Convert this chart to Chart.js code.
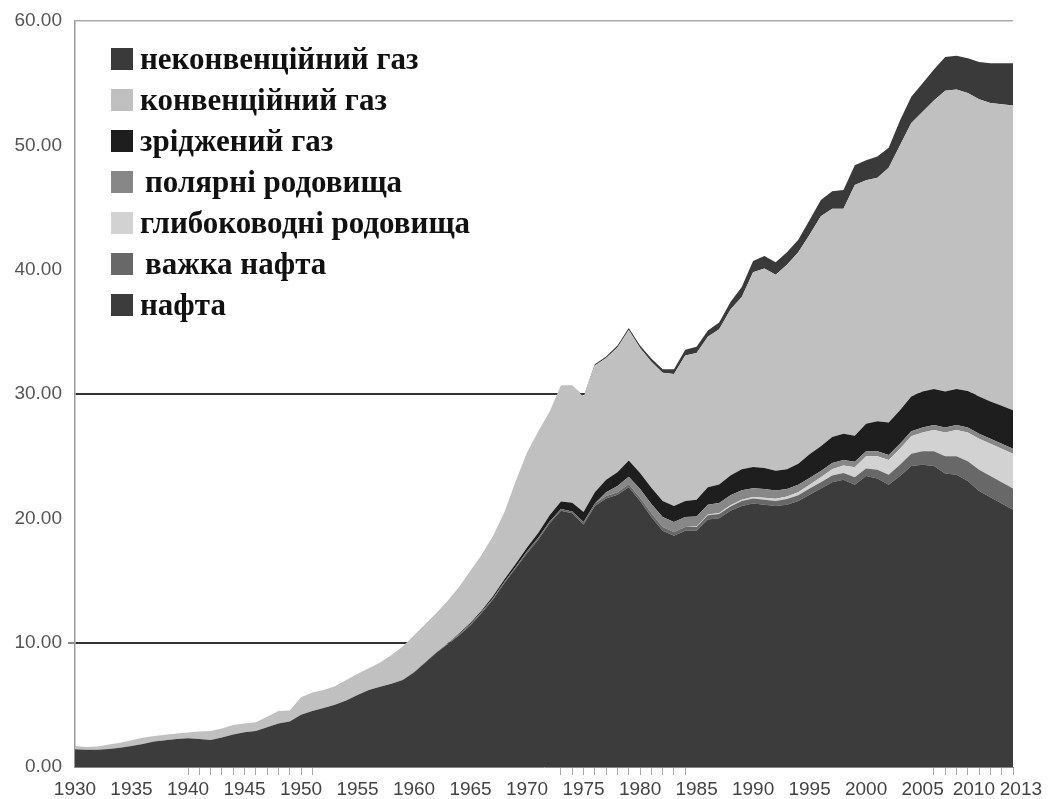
<!DOCTYPE html>
<html>
<head>
<meta charset="utf-8">
<script src="https://cdn.jsdelivr.net/npm/chart.js@4.4.0/dist/chart.umd.min.js"></script>
<style>
  body { margin: 0; background: #fff; }
  #wrap { position: relative; width: 1048px; height: 799px; }
  #legend { position: absolute; left: 111px; top: 48px; font: bold 31px 'Liberation Serif', 'Times New Roman', serif; color: #111; }
  .row { display: flex; align-items: center; height: 22px; margin-bottom: 19px; white-space: nowrap; }
  .sw { width: 22px; height: 22px; margin-right: 7px; flex: none; }
  .indent { padding-left: 5px; }
</style>
</head>
<body>
<div id="wrap">
  <canvas id="energyChart"></canvas>
  <div id="legend"></div>
</div>
<script>
const years = [];
for (let y = 1930; y <= 2013; y++) years.push(y);

// ticked years on the x axis (only these show small tick marks)
const tickedYears = [1940, 1941, 1942, 1943, 1944, 1945, 1946, 1947, 1948, 1949, 1950, 1951,
  1973, 1974, 1975, 1976, 1977, 1978, 1979, 1980, 1981, 1982, 1983, 1984,
  2006, 2007, 2008, 2009, 2010, 2011, 2012, 2013];
const yTickLabels = [0, 10, 20, 30, 40, 50, 60];

// series, bottom to top
const oil = [
  1.42, 1.38, 1.38, 1.45, 1.55, 1.69, 1.85, 2.05, 2.15, 2.25,
  2.31, 2.25, 2.18, 2.38, 2.62, 2.80, 2.90, 3.20, 3.50, 3.65,
  4.20, 4.50, 4.75, 5.00, 5.35, 5.80, 6.20, 6.45, 6.70, 7.00,
  7.60, 8.40, 9.20, 9.90, 10.6, 11.4, 12.4, 13.5, 14.8, 16.0,
  17.2, 18.3, 19.6, 20.6, 20.4, 19.5, 21.0, 21.6, 21.9, 22.5,
  21.4, 20.1, 19.0, 18.6, 19.0, 19.0, 19.9, 20.0, 20.6, 21.0,
  21.2, 21.1, 21.0, 21.1, 21.4, 21.9, 22.4, 22.9, 23.1, 22.7,
  23.4, 23.2, 22.7, 23.4, 24.2, 24.3, 24.2, 23.6, 23.5, 23.0,
  22.2, 21.7, 21.2, 20.7
];
const heavyOil = [
  0, 0, 0, 0, 0, 0, 0, 0, 0, 0,
  0, 0, 0, 0, 0, 0, 0, 0, 0, 0,
  0, 0, 0, 0, 0, 0, 0, 0, 0, 0,
  0.05, 0.05, 0.05, 0.05, 0.1, 0.1, 0.1, 0.1, 0.1, 0.1,
  0.15, 0.15, 0.15, 0.15, 0.15, 0.2, 0.2, 0.2, 0.2, 0.25,
  0.25, 0.3, 0.3, 0.3, 0.3, 0.3, 0.35, 0.35, 0.35, 0.4,
  0.4, 0.4, 0.4, 0.45, 0.45, 0.5, 0.5, 0.55, 0.55, 0.6,
  0.6, 0.7, 0.8, 0.9, 1.0, 1.1, 1.2, 1.4, 1.5, 1.6,
  1.7, 1.7, 1.7, 1.7
];
const deepWater = [
  0, 0, 0, 0, 0, 0, 0, 0, 0, 0,
  0, 0, 0, 0, 0, 0, 0, 0, 0, 0,
  0, 0, 0, 0, 0, 0, 0, 0, 0, 0,
  0, 0, 0, 0, 0, 0, 0, 0, 0, 0,
  0, 0, 0, 0, 0, 0, 0, 0, 0, 0,
  0, 0, 0, 0, 0, 0.05, 0.05, 0.08, 0.1, 0.1,
  0.12, 0.15, 0.18, 0.2, 0.25, 0.3, 0.4, 0.5, 0.6, 0.8,
  1.0, 1.1, 1.2, 1.3, 1.4, 1.5, 1.7, 1.9, 2.1, 2.3,
  2.5, 2.6, 2.7, 2.8
];
const polar = [
  0, 0, 0, 0, 0, 0, 0, 0, 0, 0,
  0, 0, 0, 0, 0, 0, 0, 0, 0, 0,
  0, 0, 0, 0, 0, 0, 0, 0, 0, 0,
  0, 0, 0, 0, 0, 0, 0, 0, 0, 0,
  0, 0, 0, 0, 0, 0, 0, 0.3, 0.5, 0.6,
  0.7, 0.75, 0.8, 0.8, 0.8, 0.8, 0.8, 0.8, 0.8, 0.75,
  0.7, 0.7, 0.65, 0.6, 0.6, 0.55, 0.5, 0.5, 0.45, 0.45,
  0.4, 0.4, 0.4, 0.4, 0.4, 0.4, 0.4, 0.4, 0.4, 0.4,
  0.4, 0.4, 0.4, 0.4
];
const lng = [
  0, 0, 0, 0, 0, 0, 0, 0, 0, 0,
  0, 0, 0, 0, 0, 0, 0, 0, 0, 0,
  0, 0, 0, 0, 0, 0, 0, 0, 0, 0,
  0, 0, 0, 0, 0.05, 0.1, 0.1, 0.15, 0.2, 0.25,
  0.3, 0.4, 0.5, 0.6, 0.7, 0.8, 0.9, 1.0, 1.1, 1.3,
  1.3, 1.3, 1.3, 1.3, 1.3, 1.35, 1.4, 1.5, 1.6, 1.7,
  1.7, 1.7, 1.6, 1.6, 1.7, 1.9, 2.0, 2.1, 2.1, 2.1,
  2.2, 2.4, 2.6, 2.7, 2.8, 2.9, 2.9, 2.9, 2.9, 2.95,
  3.0, 3.0, 3.05, 3.1
];
const convGas = [
  0.27, 0.22, 0.27, 0.35, 0.40, 0.46, 0.50, 0.45, 0.45, 0.45,
  0.47, 0.60, 0.72, 0.72, 0.76, 0.70, 0.70, 0.85, 1.00, 0.90,
  1.40, 1.50, 1.45, 1.50, 1.65, 1.70, 1.75, 1.95, 2.30, 2.70,
  2.95, 3.05, 3.15, 3.45, 3.75, 4.20, 4.50, 4.85, 5.40, 6.65,
  7.65, 8.15, 8.35, 9.35, 9.45, 9.25, 10.2, 9.80, 10.05, 10.5,
  10.05, 10.15, 10.3, 10.6, 11.7, 11.8, 12.1, 12.47, 13.35, 13.85,
  15.68, 16.05, 15.77, 16.45, 17.0, 17.65, 18.5, 18.35, 18.1, 20.15,
  19.6, 19.6, 20.5, 21.3, 22.0, 22.5, 23.2, 24.2, 24.1, 23.95,
  23.9, 24.0, 24.25, 24.5
];
const unconvGas = [
  0, 0, 0, 0, 0, 0, 0, 0, 0, 0,
  0, 0, 0, 0, 0, 0, 0, 0, 0, 0,
  0, 0, 0, 0, 0, 0, 0, 0, 0, 0,
  0, 0, 0, 0, 0, 0, 0, 0, 0, 0,
  0, 0, 0, 0, 0, 0.05, 0.1, 0.12, 0.15, 0.15,
  0.2, 0.25, 0.3, 0.4, 0.45, 0.5, 0.5, 0.55, 0.6, 0.8,
  0.9, 1.0, 1.0, 1.0, 1.0, 1.2, 1.3, 1.4, 1.5, 1.6,
  1.6, 1.7, 1.6, 2.0, 2.1, 2.3, 2.5, 2.7, 2.7, 2.8,
  3.0, 3.2, 3.3, 3.4
];

const seriesNames = ['нафта', 'важка нафта', 'глибоководні родовища', 'полярні родовища',
  'зріджений газ', 'конвенційний газ', 'неконвенційний газ'];
const seriesData = [oil, heavyOil, deepWater, polar, lng, convGas, unconvGas];
const seriesColors = ['#3c3c3c', '#686868', '#d2d2d2', '#878787', '#1e1e1e', '#c0c0c0', '#3a3a3a'];

// html legend, top of stack first
const legendEl = document.getElementById('legend');
for (let i = seriesNames.length - 1; i >= 0; i--) {
  const row = document.createElement('div');
  row.className = 'row';
  const indent = (i === 1 || i === 3) ? ' class="indent"' : '';
  row.innerHTML = '<span class="sw" style="background:' + seriesColors[i] + '"></span><span' + indent + '>' + seriesNames[i] + '</span>';
  legendEl.appendChild(row);
}

const axisFont = { family: "'Liberation Sans', Arial, sans-serif", size: 19 };

const ctx = document.getElementById('energyChart').getContext('2d');
new Chart(ctx, {
  type: 'line',
  data: {
    labels: years,
    datasets: seriesData.map((d, i) => ({
      label: seriesNames[i],
      data: d,
      backgroundColor: seriesColors[i],
      borderWidth: 0,
      pointRadius: 0,
      fill: i === 0 ? 'origin' : '-1'
    }))
  },
  options: {
    responsive: true,
    maintainAspectRatio: false,
    animation: false,
    layout: { padding: { top: 21, right: 35, left: 0, bottom: 0 } },
    plugins: {
      legend: { display: false },
      tooltip: { enabled: false }
    },
    scales: {
      x: {
        offset: false,
        border: { color: '#888' },
        grid: {
          drawOnChartArea: false,
          tickLength: 8,
          tickColor: c => tickedYears.includes(years[c.index]) ? '#aaa' : 'rgba(0,0,0,0)'
        },
        ticks: {
          autoSkip: false,
          maxRotation: 0,
          padding: 3,
          color: '#444',
          font: axisFont,
          callback: function (v, i) {
            const yr = years[i];
            if (yr === 2013) return '   2013';
            if (yr === 2010) return '2010  ';
            return yr % 5 === 0 ? String(yr) : '';
          }
        },
        afterFit: s => { s.height = 32; }
      },
      y: {
        stacked: true,
        min: 0,
        max: 60,
        border: { color: '#999', width: 1.5 },
        grid: {
          lineWidth: c => (c.tick && c.tick.value === 60) ? 1.5 : 2,
          color: c => {
            const v = c.tick ? c.tick.value : null;
            if (v === 10 || v === 30) return '#333';
            if (v === 60) return '#aaa';
            return 'rgba(0,0,0,0)';
          },
          tickLength: 7,
          tickColor: c => (c.tick && c.tick.value === 10) ? '#888' : 'rgba(0,0,0,0)'
        },
        ticks: {
          stepSize: 10,
          padding: 6,
          color: '#555',
          font: axisFont,
          callback: v => yTickLabels.includes(v) ? v.toFixed(2) : ''
        },
        afterFit: s => { s.width = 75; }
      }
    }
  }
});
</script>
</body>
</html>
